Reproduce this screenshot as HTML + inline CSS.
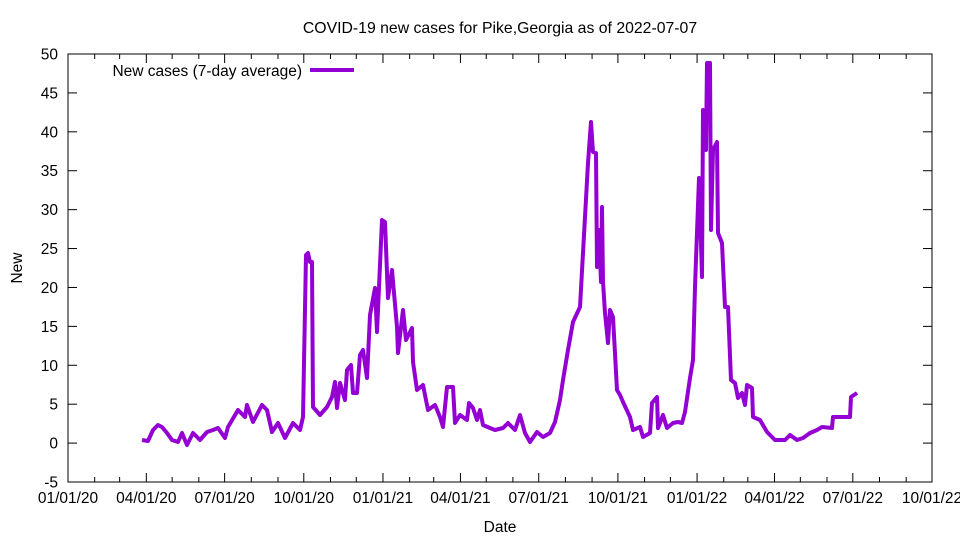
<!DOCTYPE html>
<html><head><meta charset="utf-8"><style>
body{margin:0;background:#fff}
svg{display:block;font-family:"Liberation Sans",sans-serif}
</style></head><body>
<svg id="s" width="960" height="540" viewBox="0 0 960 540">
<rect width="960" height="540" fill="#fff"/>
<text x="500" y="33" font-size="15.8" text-anchor="middle">COVID-19 new cases for Pike,Georgia as of 2022-07-07</text>
<text x="500" y="532" font-size="15.5" text-anchor="middle">Date</text>
<text x="22" y="268" font-size="15.5" text-anchor="middle" transform="rotate(-90 22 268)">New</text>
<g id="ax" stroke="#000" stroke-width="1" fill="none"></g>
<g id="lb" font-size="15.5"></g>
<text x="302" y="76" font-size="15.5" text-anchor="end">New cases (7-day average)</text>
<line x1="310" y1="70" x2="354" y2="70" stroke="#9400d3" stroke-width="4"/>
<polyline fill="none" stroke="#9400d3" stroke-width="4" stroke-linejoin="round" points="
142,440 148,441 153,430 158,425 162,427 167,433 172,440 178,442 182,433 187,445 193,433 200,440 207,432 213,430 218,428 225,438 228,427 238,410 245,417 247,405 253,422 262,405 267,410 272,432 278,423 285,438 293,423 300,430 303,417 306,255 308,253 310,262 312,262 313,407 320,415 327,407 332,397 335,382 337,408 340,383 345,400 347,370 351,365 353,393 357,393 360,355 363,350 367,378 370,315 375,288 377,332 382,220 385,222 388,298 392,270 397,327 398,353 403,310 406,340 412,328 413,362 417,390 423,385 428,410 435,405 440,417 443,427 447,387 448,387 453,387 455,423 460,415 467,420 469,403 473,408 477,420 480,410 483,425 490,428 495,430 503,428 508,423 515,430 520,415 525,433 530,442 537,432 543,437 550,433 555,422 560,400 563,380 568,350 573,322 580,307 583,253 588,163 591,122 593,152 596,153 597,267 599,230 601,282 602,207 603,282 605,313 608,343 610,310 613,317 617,390 620,395 623,402 630,417 633,430 640,427 643,437 650,433 652,403 657,397 658,428 663,415 667,428 673,423 678,422 682,423 685,412 690,378 693,360 695,287 699,178 702,277 703,110 706,150 707,63 710,63 711,230 713,150 717,142 718,233 722,243 725,307 728,307 731,380 735,383 738,398 742,393 745,405 747,385 752,388 753,417 760,420 767,432 775,440 785,440 790,435 797,440 803,438 810,433 817,430 822,427 832,428 833,417 850,417 851,397 857,393"/>
</svg>
<script>
var ax=document.getElementById('ax'),lb=document.getElementById('lb'),NS='http://www.w3.org/2000/svg';
function el(p,t,a,txt){var e=document.createElementNS(NS,t);for(var k in a)e.setAttribute(k,a[k]);if(txt)e.textContent=txt;p.appendChild(e);}
var L=68,R=932,T=54,B=482;
el(ax,'rect',{x:L,y:T,width:R-L,height:B-T});
for(var v=-5;v<=50;v+=5){var y=443.1-v*7.782;
el(ax,'line',{x1:L,y1:y,x2:L+9,y2:y});el(ax,'line',{x1:R,y1:y,x2:R-9,y2:y});
el(lb,'text',{x:58,y:y+5.5,'text-anchor':'end'},String(v));}
var d0=Date.UTC(2020,0,1),ppd=864/1004;
for(var m=0;m<=33;m++){var dt=Date.UTC(2020,m,1);var x=L+(dt-d0)/864e5*ppd;var maj=m%3==0;var len=maj?9:5;
el(ax,'line',{x1:x,y1:B,x2:x,y2:B-len});el(ax,'line',{x1:x,y1:T,x2:x,y2:T+len});
if(maj){var dd=new Date(dt);var mm=('0'+(dd.getUTCMonth()+1)).slice(-2);var yy=String(dd.getUTCFullYear()).slice(2);
el(lb,'text',{x:x,y:503,'text-anchor':'middle'},mm+'/01/'+yy);}}
</script>
</body></html>
